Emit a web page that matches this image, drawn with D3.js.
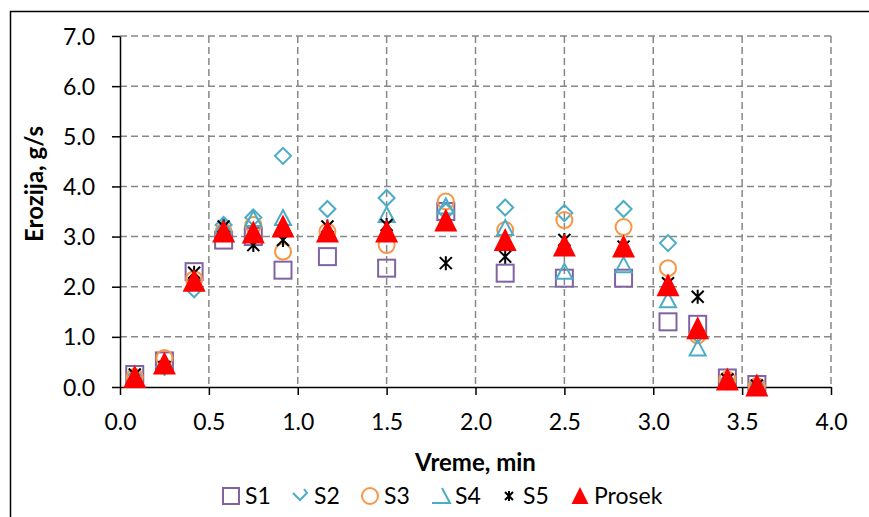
<!DOCTYPE html>
<html>
<head>
<meta charset="utf-8">
<script src="https://cdn.jsdelivr.net/npm/d3@7"></script>
<style>
  html, body { margin: 0; padding: 0; background: #fff; }
  svg { display: block; }
  text { font-family: Lato, "Open Sans", sans-serif; fill: #000; }
</style>
</head>
<body>
<svg id="chart" width="869" height="517"></svg>
<script>
// ---- data ----
const times = [0.083, 0.25, 0.417, 0.583, 0.75, 0.917, 1.167, 1.5, 1.833, 2.167, 2.5, 2.833, 3.083, 3.25, 3.417, 3.583];
const S1 = [0.25, 0.52, 2.3, 2.93, 3.0, 2.33, 2.6, 2.37, 3.5, 2.27, 2.17, 2.17, 1.3, 1.25, 0.18, 0.05];
const S2 = [0.2, 0.4, 1.95, 3.23, 3.38, 4.61, 3.55, 3.77, 3.5, 3.58, 3.47, 3.55, 2.87, 1.05, 0.12, 0.02];
const S3 = [0.2, 0.58, 2.15, 3.1, 3.23, 2.7, 3.1, 2.83, 3.7, 3.13, 3.33, 3.19, 2.37, 1.03, 0.15, 0.02];
const S4 = [0.2, 0.45, 2.1, 3.2, 3.35, 3.37, 3.1, 3.43, 3.6, 3.17, 2.3, 2.43, 1.73, 0.77, 0.1, 0.02];
const S5 = [0.25, 0.4, 2.28, 3.2, 2.83, 2.93, 3.2, 3.23, 2.47, 2.6, 2.93, 2.8, 2.07, 1.8, 0.15, 0.03];
const Prosek = [0.2, 0.47, 2.12, 3.1, 3.08, 3.2, 3.1, 3.1, 3.32, 2.93, 2.82, 2.8, 2.03, 1.17, 0.15, 0.03];
const seriesNames = ["S1", "S2", "S3", "S4", "S5", "Prosek"];
const xTicks = [0, 0.5, 1.0, 1.5, 2.0, 2.5, 3.0, 3.5, 4.0];
const yTicks = [0, 1, 2, 3, 4, 5, 6, 7];
const xTitle = "Vreme, min";
const yTitle = "Erozija, g/s";

// ---- layout ----
const svg = d3.select("#chart");
const pL = 120, pR = 831, pT = 36, pB = 387;
const x = d3.scaleLinear().domain([0, 4]).range([pL, pR]);
const y = d3.scaleLinear().domain([0, 7]).range([pB, pT]);

// outer frame
svg.append("rect").attr("x", 10.5).attr("y", 11.5).attr("width", 900).attr("height", 600)
  .attr("fill", "none").attr("stroke", "#000").attr("stroke-width", 1.5);

// gridlines
const grid = svg.append("g").attr("stroke", "#888").attr("stroke-width", 1.5)
  .attr("stroke-dasharray", "7,4").attr("fill", "none");
yTicks.filter(d => d > 0).forEach(d => {
  grid.append("line").attr("x1", pL).attr("x2", pR).attr("y1", y(d)).attr("y2", y(d));
});
xTicks.filter(d => d > 0).forEach(d => {
  grid.append("line").attr("x1", x(d)).attr("x2", x(d)).attr("y1", pT).attr("y2", pB);
});

// axes
const fmt = d3.format(".1f");
const xAxis = svg.append("g").attr("transform", `translate(0,${pB})`)
  .call(d3.axisBottom(x).tickValues(xTicks).tickFormat(fmt).tickSize(8).tickSizeOuter(0));
const yAxis = svg.append("g").attr("transform", `translate(${pL},0)`)
  .call(d3.axisLeft(y).tickValues(yTicks).tickFormat(fmt).tickSize(8).tickSizeOuter(0));
[xAxis, yAxis].forEach(a => {
  a.select(".domain").attr("stroke", "#000").attr("stroke-width", 1.5);
  a.selectAll(".tick line").attr("stroke", "#000").attr("stroke-width", 1.5);
  a.selectAll(".tick text").style("font-family", "Lato, sans-serif").style("font-size", "23px").attr("fill", "#000");
});
xAxis.selectAll(".tick text").attr("dy", null).attr("y", 43);
yAxis.selectAll(".tick text").attr("x", -25).attr("dy", "0.35em");

// titles
svg.append("text").attr("x", (pL + pR) / 2).attr("y", 471).attr("text-anchor", "middle")
  .style("font-size", "24px").style("font-weight", "bold").text(xTitle);
svg.append("text").attr("transform", `translate(43,184) rotate(-90)`).attr("text-anchor", "middle")
  .style("font-size", "24px").style("font-weight", "bold").text(yTitle);

// marker drawers
const markers = {
  S1: g => g.append("rect").attr("x", -8.5).attr("y", -8.5).attr("width", 17).attr("height", 17)
          .attr("fill", "none").attr("stroke", "#8064A2").attr("stroke-width", 2),
  S2: g => g.append("path").attr("d", "M0,-8L8,0L0,8L-8,0Z")
          .attr("fill", "none").attr("stroke", "#4BACC6").attr("stroke-width", 2),
  S3: g => g.append("circle").attr("r", 8)
          .attr("fill", "none").attr("stroke", "#F79646").attr("stroke-width", 2),
  S4: g => g.append("path").attr("d", "M0,-8L8,7L-8,7Z")
          .attr("fill", "none").attr("stroke", "#4BACC6").attr("stroke-width", 2),
  S5: g => g.append("path").attr("d", "M-6,-6L6,6M-6,6L6,-6M0,-7L0,7")
          .attr("fill", "none").attr("stroke", "#000").attr("stroke-width", 2),
  Prosek: g => g.append("path").attr("d", "M0,-12L11.5,11L-11.5,11Z")
          .attr("fill", "#FF0000").attr("stroke", "none")
};
const legendMarkers = {
  S1: g => g.append("rect").attr("x", -8).attr("y", -8).attr("width", 16).attr("height", 16)
          .attr("fill", "none").attr("stroke", "#8064A2").attr("stroke-width", 2),
  S2: g => g.append("path").attr("d", "M-7,-3L0,4L7,-3L4,-7")
          .attr("fill", "none").attr("stroke", "#4BACC6").attr("stroke-width", 2),
  S3: g => g.append("circle").attr("r", 8)
          .attr("fill", "none").attr("stroke", "#F79646").attr("stroke-width", 2),
  S4: g => g.append("path").attr("d", "M1,-8L9,7L-9,7")
          .attr("fill", "none").attr("stroke", "#4BACC6").attr("stroke-width", 2),
  S5: g => g.append("path").attr("d", "M-4,-4L4,4M-4,4L4,-4M0,-5L0,5")
          .attr("fill", "none").attr("stroke", "#000").attr("stroke-width", 2),
  Prosek: g => g.append("path").attr("d", "M0,-9L8.5,8L-8.5,8Z")
          .attr("fill", "#FF0000").attr("stroke", "none")
};

const seriesData = { S1, S2, S3, S4, S5, Prosek };
seriesNames.forEach(name => {
  const g = svg.append("g").attr("class", "series-" + name);
  seriesData[name].forEach((v, i) => {
    const m = g.append("g").attr("transform", `translate(${x(times[i])},${y(v)})`);
    markers[name](m);
  });
});

// legend
const legendX = [231, 300, 370, 441, 509, 580];
const legendY = 496;
seriesNames.forEach((name, i) => {
  const m = svg.append("g").attr("transform", `translate(${legendX[i]},${legendY})`);
  legendMarkers[name](m);
  svg.append("text").attr("x", legendX[i] + 14).attr("y", legendY + 8)
    .style("font-size", "23px").text(name);
});
</script>
</body>
</html>
